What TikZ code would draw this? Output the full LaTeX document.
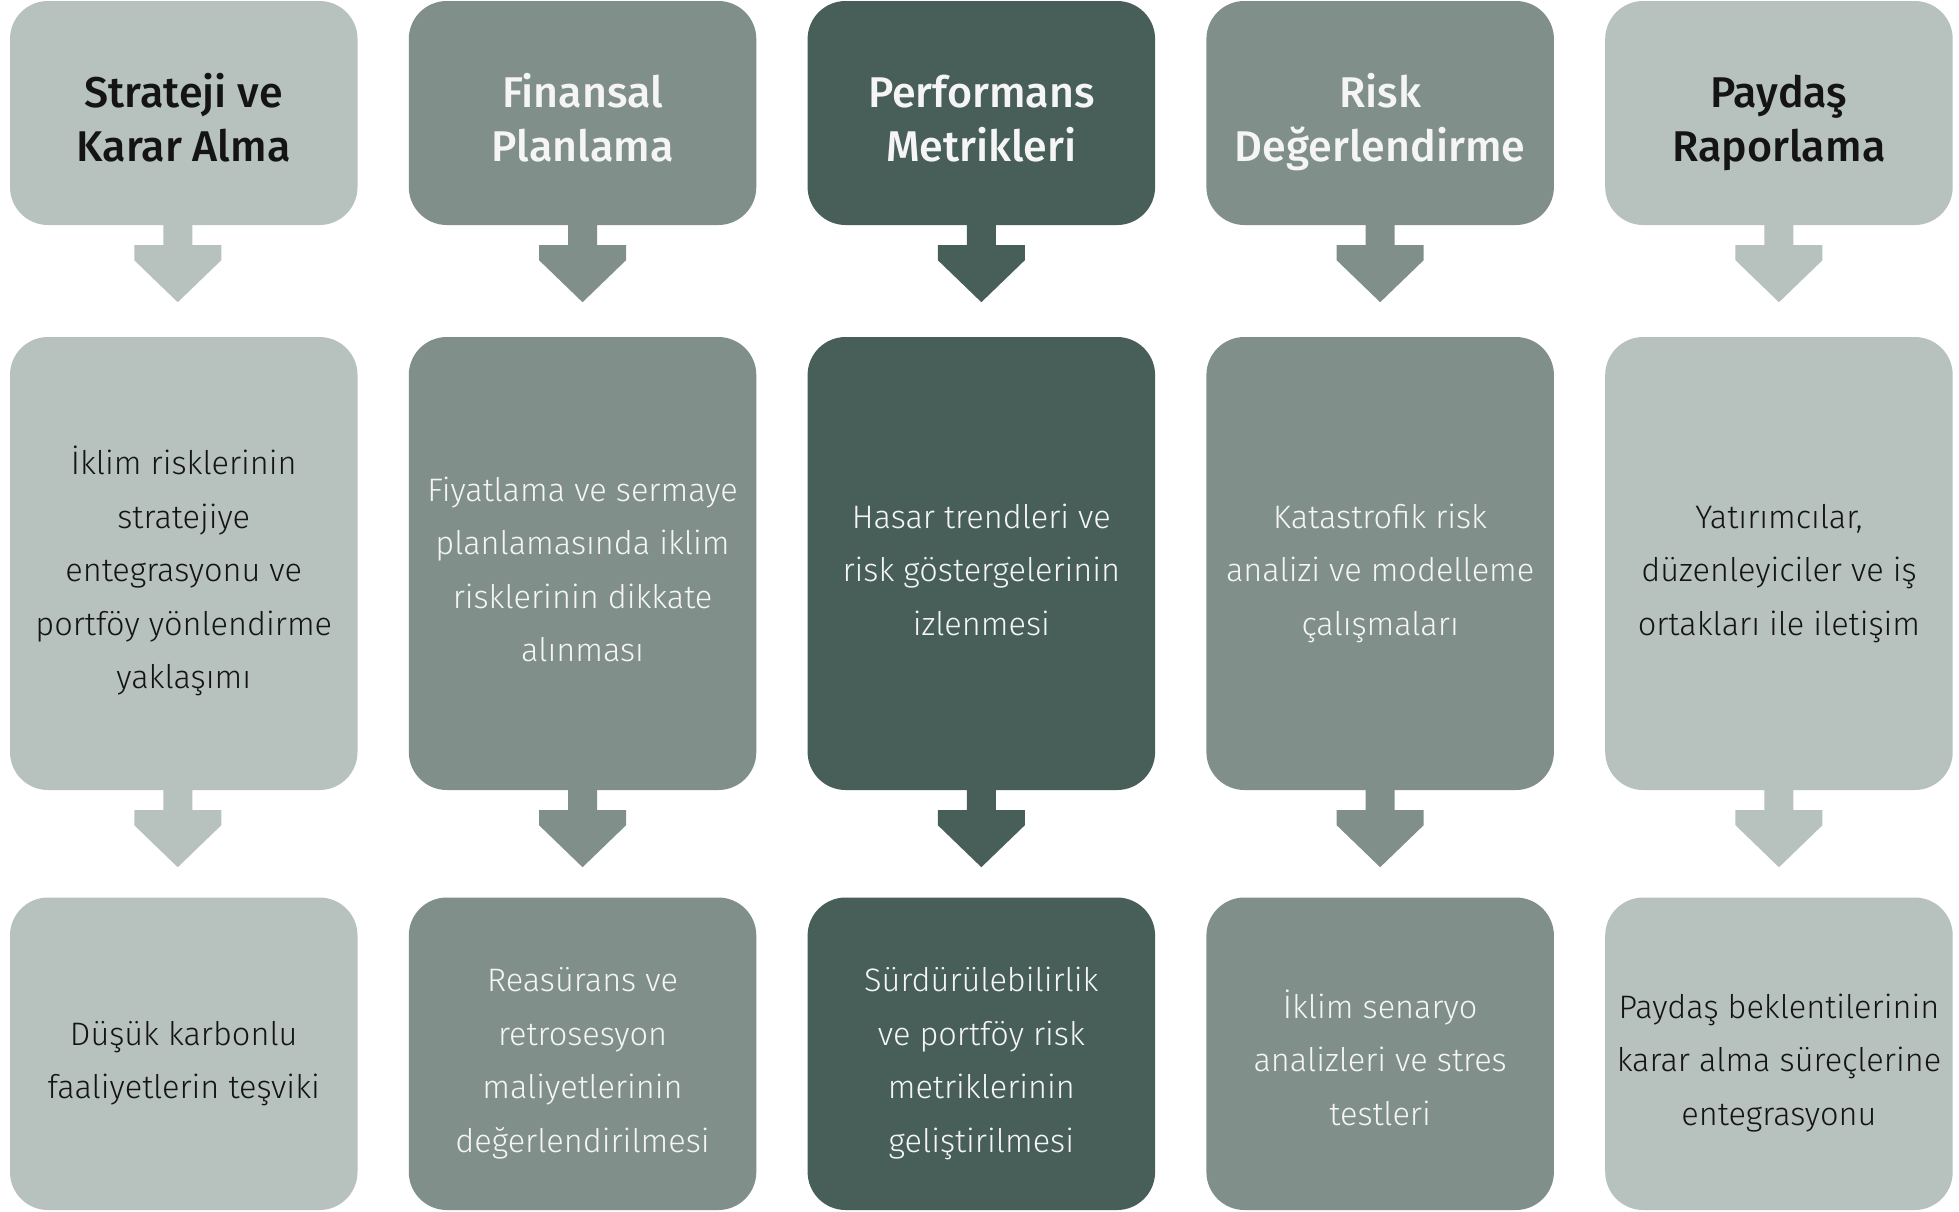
\documentclass[tikz,border=0pt]{standalone}
\usepackage{fontspec}
\setmainfont{Fira Sans}[UprightFont=* Light, BoldFont=* Medium]
\usetikzlibrary{calc}
\definecolor{cLight}{RGB}{183,193,189}
\definecolor{cMid}{RGB}{128,143,138}
\definecolor{cDark}{RGB}{71,95,88}
\definecolor{txtDark}{RGB}{20,20,20}
\definecolor{txtLight}{RGB}{245,245,245}
% block arrow below a node: #1 node, #2 colour, #3 horizontal offset
\newcommand\blockarrow[3]{\fill[#2] ([xshift=#3]#1.south) ++(-14.5,-1) -- ++(29,0) -- ++(0,21) -- ++(29,0) -- ++(0,15) -- ++(-43.5,42) -- ++(-43.5,-42) -- ++(0,-15) -- ++(29,0) -- cycle;}
% struts that fix the vertical placement of text blocks
\newcommand\ttl[1]{\rule{0pt}{57pt}#1\rule[-13.3pt]{0pt}{13.3pt}}
\newcommand\bdy[1]{\rule{0pt}{49pt}#1\rule[-12.9pt]{0pt}{12.9pt}}
\begin{document}
\begin{tikzpicture}[x=1pt,y=-1pt,
  box/.style={rounded corners=38pt, inner sep=0pt, minimum width=347.5pt, align=center},
  titlebox/.style={box, minimum height=224pt, font={\fontsize{43}{54}\selectfont\bfseries}},
  midbox/.style={box, minimum height=453pt, font={\fontsize{32.5}{53.5}\selectfont}},
  lowbox/.style={box, minimum height=312.5pt, font={\fontsize{32.5}{53.5}\selectfont}},
  colA/.style={fill=cLight, text=txtDark},
  colB/.style={fill=cMid, text=txtLight},
  colC/.style={fill=cDark, text=txtLight}]
\useasboundingbox (0,0) rectangle (1959,1211);
\fill[white] (0,0) rectangle (1959,1211);
% column 1
\node[titlebox,colA] (t1) at (183.75,113) {\ttl{Strateji ve\\Karar Alma}};
\node[midbox,colA] (m1) at (183.75,563.5) {\bdy{İklim risklerinin\\stratejiye\\entegrasyonu ve\\portföy yönlendirme\\yaklaşımı}};
\node[lowbox,colA] (b1) at (183.75,1053.75) {\bdy{Düşük karbonlu\\faaliyetlerin teşviki}};
% column 2
\node[titlebox,colB] (t2) at (582.55,113) {\ttl{Finansal\\Planlama}};
\node[midbox,colB] (m2) at (582.55,563.5) {\bdy{Fiyatlama ve sermaye\\planlamasında iklim\\risklerinin dikkate\\alınması}};
\node[lowbox,colB] (b2) at (582.55,1053.75) {\bdy{Reasürans ve\\retrosesyon\\maliyetlerinin\\değerlendirilmesi}};
% column 3
\node[titlebox,colC] (t3) at (981.35,113) {\ttl{Performans\\Metrikleri}};
\node[midbox,colC] (m3) at (981.35,563.5) {\bdy{Hasar trendleri ve\\risk göstergelerinin\\izlenmesi}};
\node[lowbox,colC] (b3) at (981.35,1053.75) {\bdy{Sürdürülebilirlik\\ve portföy risk\\metriklerinin\\geliştirilmesi}};
% column 4
\node[titlebox,colB] (t4) at (1380.15,113) {\ttl{Risk\\Değerlendirme}};
\node[midbox,colB] (m4) at (1380.15,563.5) {\bdy{Katastrofik risk\\analizi ve modelleme\\çalışmaları}};
\node[lowbox,colB] (b4) at (1380.15,1053.75) {\bdy{İklim senaryo\\analizleri ve stres\\testleri}};
% column 5
\node[titlebox,colA] (t5) at (1778.95,113) {\ttl{Paydaş\\Raporlama}};
\node[midbox,colA] (m5) at (1778.95,563.5) {\bdy{Yatırımcılar,\\düzenleyiciler ve iş\\ortakları ile iletişim}};
\node[lowbox,colA] (b5) at (1778.95,1053.75) {\bdy{Paydaş beklentilerinin\\karar alma süreçlerine\\entegrasyonu}};
% arrows
\blockarrow{t1}{cLight}{-6pt}
\blockarrow{m1}{cLight}{-6pt}
\blockarrow{t2}{cMid}{0pt}
\blockarrow{m2}{cMid}{0pt}
\blockarrow{t3}{cDark}{0pt}
\blockarrow{m3}{cDark}{0pt}
\blockarrow{t4}{cMid}{0pt}
\blockarrow{m4}{cMid}{0pt}
\blockarrow{t5}{cLight}{0pt}
\blockarrow{m5}{cLight}{0pt}
\end{tikzpicture}
\end{document}
